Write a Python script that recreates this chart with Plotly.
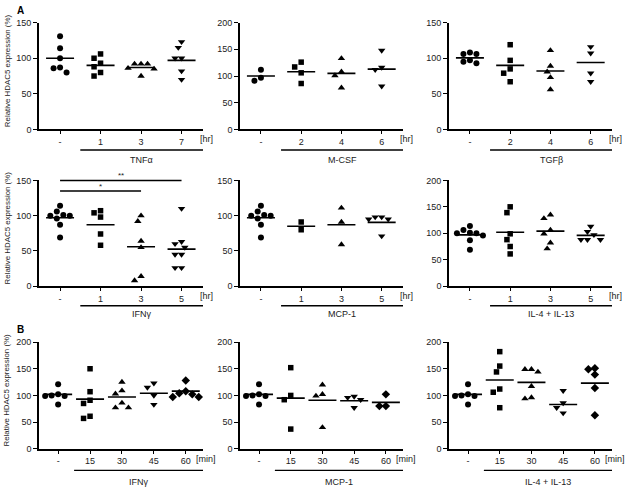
import plotly.graph_objects as go

W, H = 627, 494

# ---------------- data ----------------
hr_ctrl_row2 = [114, 106, 101, 100, 100, 96, 87, 69]
min_ctrl = [121, 102, 100, 99, 99, 83]

tnfa_cats = ["-", "1", "3", "7"]
tnfa_vals = [[131, 114, 100, 87, 86, 80], [106, 100, 93, 88, 80, 75],
             [92, 92, 92, 86, 85, 75], [123, 115, 100, 100, 82, 70]]
tnfa_means = [100, 90, 87, 97]

mcsf_cats = ["-", "2", "4", "6"]
mcsf_vals = [[112, 97, 91], [126, 117, 106, 86], [133, 108, 101, 78], [148, 116, 112, 81]]
mcsf_means = [100, 108, 105, 113]

tgfb_cats = ["-", "2", "4", "6"]
tgfb_vals = [[108, 106, 106, 97, 95, 93], [119, 97, 85, 79, 67],
             [111, 89, 81, 73, 56], [116, 107, 79, 67]]
tgfb_means = [100.5, 90, 82, 94]

ifng_hr_cats = ["-", "1", "3", "5"]
ifng_hr_vals = [hr_ctrl_row2, [107, 104, 98, 74, 58], [100, 92, 64, 55, 14, 8],
                [110, 63, 60, 55, 45, 45, 26, 26]]
ifng_hr_means = [97, 87, 56, 52.5]

mcp_hr_cats = ["-", "1", "3", "5"]
mcp_hr_vals = [hr_ctrl_row2, [91, 80], [111, 91, 59], [98, 98, 95, 95, 71]]
mcp_hr_means = [97, 85, 87, 90.5]

il_hr_cats = ["-", "1", "3", "5"]
il_hr_vals = [hr_ctrl_row2, [150, 139, 99, 88, 75, 61], [135, 128, 106, 99, 82, 71],
              [113, 103, 97, 88, 88, 88]]
il_hr_means = [97, 102, 104, 96]

ifng_min_cats = ["-", "15", "30", "45", "60"]
ifng_min_vals = [min_ctrl, [150, 107, 91, 85, 61, 57], [125, 109, 103, 86, 77, 77],
                 [123, 115, 100, 83], [128, 108, 104, 102, 97, 97]]
ifng_min_means = [102, 93, 97, 104, 108]

mcp_min_cats = ["-", "15", "30", "45", "60"]
mcp_min_vals = [min_ctrl, [152, 100, 92, 37], [120, 102, 99, 40], [98, 96, 92, 77], [102, 80, 80]]
mcp_min_means = [102, 95, 91, 90, 87]

il_min_cats = ["-", "15", "30", "45", "60"]
il_min_vals = [min_ctrl, [182, 155, 144, 112, 106, 77], [149, 149, 144, 117, 96, 94],
               [109, 86, 77, 67], [151, 149, 139, 114, 63]]
il_min_means = [102, 129, 124.5, 83, 123]

treatments = ["TNFα", "M-CSF", "TGFβ", "IFNγ", "MCP-1", "IL-4 + IL-13", "IFNγ", "MCP-1", "IL-4 + IL-13"]
units = ["[hr]"] * 6 + ["[min]"] * 3
ymaxes = [150, 200, 150, 150, 150, 200, 200, 200, 200]
y_title = "Relative HDAC5 expression (%)"

panels = [
    (tnfa_cats, tnfa_vals, tnfa_means),
    (mcsf_cats, mcsf_vals, mcsf_means),
    (tgfb_cats, tgfb_vals, tgfb_means),
    (ifng_hr_cats, ifng_hr_vals, ifng_hr_means),
    (mcp_hr_cats, mcp_hr_vals, mcp_hr_means),
    (il_hr_cats, il_hr_vals, il_hr_means),
    (ifng_min_cats, ifng_min_vals, ifng_min_means),
    (mcp_min_cats, mcp_min_vals, mcp_min_means),
    (il_min_cats, il_min_vals, il_min_means),
]

# significance brackets on IFNγ [hr] panel: (from cat, to cat, level, label)
sig_brackets = [(0, 3, 150, "**"), (0, 2, 135, "*")]

# ---------------- layout geometry (pixels) ----------------
col_px = [(39, 203), (240, 403), (449, 612)]
row_px = [(18, 127), (179, 287), (344, 453)]
under_off = [21, 20, 22]
label_off = [31, 28, 34]
FONT = "Arial, Liberation Sans, sans-serif"
TXT = "#222"
symbols = ["circle", "square", "triangle-up", "triangle-down", "diamond"]
msize = {"circle": 6, "square": 5.5, "triangle-up": 6.5, "triangle-down": 6.5, "diamond": 6.5}


def px2paper(xp, yp):
    return xp / W, 1 - yp / H


def beeswarm(vals, ppu_x, ppu_y, d=6.5):
    placed = []
    order = sorted(range(len(vals)), key=lambda i: -vals[i])
    res = [0.0] * len(vals)
    for i in order:
        yp = vals[i] * ppu_y
        for k in range(0, 12):
            cands = [0.0] if k == 0 else [-k * d / 2, k * d / 2]
            ok = None
            for cx in cands:
                if all((cx - px) ** 2 + (yp - py) ** 2 >= (d * 0.95) ** 2 for px, py in placed):
                    ok = cx
                    break
            if ok is not None:
                placed.append((ok, yp))
                res[i] = ok / ppu_x
                break
    return res


fig = go.Figure()
annotations = []
shapes = []

for k, (cats, vals, means) in enumerate(panels):
    r, c = divmod(k, 3)
    suf = "" if k == 0 else str(k + 1)
    x0, x1 = col_px[c]
    y0, y1 = row_px[r]
    n = len(cats)
    xr = [-0.52, 3.53] if n == 4 else [-0.6, 4.54]
    ppu_x = (x1 - x0) / (xr[1] - xr[0])
    ymax = ymaxes[k]
    ppu_y = (y1 - y0) / ymax

    def to_px(xv, yv):
        return x0 + (xv - xr[0]) * ppu_x, y1 - yv * ppu_y

    for g, gv in enumerate(vals):
        offs = beeswarm(gv, ppu_x, ppu_y)
        sym = symbols[g]
        fig.add_trace(go.Scatter(
            x=[g + o for o in offs], y=gv, mode="markers",
            marker=dict(symbol=sym, size=msize[sym], color="black", line=dict(width=0)),
            xaxis="x" + suf, yaxis="y" + suf, showlegend=False, cliponaxis=False))
    hw = 14 / ppu_x
    lx, ly = [], []
    for g, m in enumerate(means):
        lx += [g - hw, g + hw, None]
        ly += [m, m, None]
    fig.add_trace(go.Scatter(x=lx, y=ly, mode="lines", line=dict(color="black", width=1.6),
                             xaxis="x" + suf, yaxis="y" + suf, showlegend=False))

    fig.layout["xaxis" + suf] = dict(
        domain=[x0 / W, x1 / W], anchor="y" + suf, range=xr,
        tickvals=list(range(n)), ticktext=cats, ticks="outside", ticklen=3,
        tickwidth=1.2, tickcolor="black",
        showline=True, linecolor="black", linewidth=1.6, showgrid=False, zeroline=False,
        tickfont=dict(family=FONT, size=9, color=TXT), fixedrange=True)
    fig.layout["yaxis" + suf] = dict(
        domain=[1 - y1 / H, 1 - y0 / H], anchor="x" + suf, range=[0, ymax],
        tickvals=list(range(0, ymax + 1, 50)), ticks="outside", ticklen=4,
        tickwidth=1.2, tickcolor="black",
        showline=True, linecolor="black", linewidth=1.6, showgrid=False, zeroline=False,
        tickfont=dict(family=FONT, size=9, color=TXT), fixedrange=True)

    # unit label
    ux, uy = px2paper(x1 + 3, y1 + 10)
    annotations.append(dict(x=ux, y=uy, xref="paper", yref="paper", text=units[k],
                            showarrow=False, xanchor="center", yanchor="middle",
                            font=dict(family=FONT, size=9, color=TXT)))
    # treatment underline and label
    bx0, _ = to_px(0.5, 0)
    uyp = y1 + under_off[r]
    shapes.append(dict(type="line", xref="paper", yref="paper",
                       x0=bx0 / W, x1=x1 / W, y0=1 - uyp / H, y1=1 - uyp / H,
                       line=dict(color="black", width=1.4)))
    lxp = (bx0 + x1) / 2
    annotations.append(dict(x=lxp / W, y=1 - (y1 + label_off[r]) / H, xref="paper", yref="paper",
                            text=treatments[k], showarrow=False, xanchor="center", yanchor="middle",
                            font=dict(family=FONT, size=9, color=TXT)))
    if c == 0:
        annotations.append(dict(x=7 / W, y=1 - ((y0 + y1) / 2 - 5) / H, xref="paper", yref="paper",
                                text=y_title, textangle=-90, showarrow=False,
                                xanchor="center", yanchor="middle",
                                font=dict(family=FONT, size=7.9, color=TXT)))
    if k == 3:
        for (a, b, lvl, lab) in sig_brackets:
            ax0, ay = to_px(a, lvl)
            ax1, _ = to_px(b, lvl)
            shapes.append(dict(type="line", xref="paper", yref="paper",
                               x0=ax0 / W, x1=ax1 / W, y0=1 - ay / H, y1=1 - ay / H,
                               line=dict(color="black", width=1.5)))
            tx, _ = to_px((a + b) / 2, lvl)
            annotations.append(dict(x=tx / W, y=1 - (ay - 5) / H, xref="paper", yref="paper",
                                    text=lab, showarrow=False, xanchor="center", yanchor="middle",
                                    font=dict(family=FONT, size=8, color=TXT)))

annotations.append(dict(x=20 / W, y=1 - 6 / H, xref="paper", yref="paper", text="<b>A</b>",
                        showarrow=False, xanchor="center", yanchor="middle",
                        font=dict(family=FONT, size=10, color="black")))
annotations.append(dict(x=20 / W, y=1 - 331 / H, xref="paper", yref="paper", text="<b>B</b>",
                        showarrow=False, xanchor="center", yanchor="middle",
                        font=dict(family=FONT, size=10, color="black")))

fig.update_layout(width=W, height=H, margin=dict(l=0, r=0, t=0, b=0),
                  paper_bgcolor="white", plot_bgcolor="white",
                  annotations=annotations, shapes=shapes, showlegend=False)
fig.write_html("out.html", config={"displayModeBar": False},
               post_script="document.body.style.margin='0';document.body.style.overflow='hidden';")
